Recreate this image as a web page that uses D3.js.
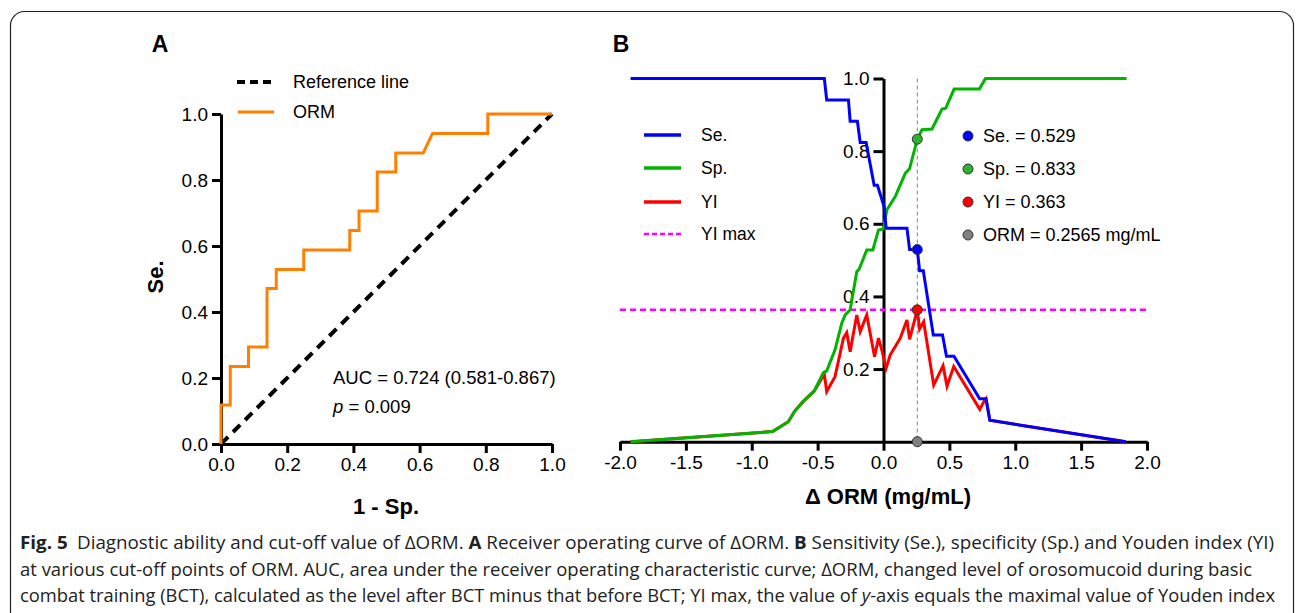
<!DOCTYPE html>
<html>
<head>
<meta charset="utf-8">
<script src="https://cdn.jsdelivr.net/npm/d3@7"></script>
<style>
  body { margin: 0; background: #fff; }
  svg text { font-family: "Liberation Sans", Arial, sans-serif; }
  .cap { font-family: "Open Sans", "Noto Sans", sans-serif !important; }
</style>
</head>
<body>
<div id="chart"></div>
<script>
// ---------- data ----------
// Panel A: ROC staircase vertices (1 - Sp., Se.)
var rocFpr = [0, 0, 0.028, 0.028, 0.083, 0.083, 0.139, 0.139, 0.167, 0.167, 0.25, 0.25, 0.389, 0.389, 0.417, 0.417, 0.472, 0.472, 0.528, 0.528, 0.611, 0.639, 0.806, 0.806, 1];
var rocTpr = [0, 0.118, 0.118, 0.235, 0.235, 0.294, 0.294, 0.471, 0.471, 0.529, 0.529, 0.588, 0.588, 0.647, 0.647, 0.706, 0.706, 0.824, 0.824, 0.882, 0.882, 0.941, 0.941, 1, 1];
var refLine = [0, 1];
var rocTicks = [0, 0.2, 0.4, 0.6, 0.8, 1.0];

// Panel B: sensitivity, specificity and Youden index vs cut-off (mg/mL)
var seX = [-1.92, -0.449, -0.431, -0.266, -0.253, -0.198, -0.177, -0.132, -0.071, -0.046, 0.005, 0.02, 0.178, 0.198, 0.2565, 0.274, 0.302, 0.378, 0.448, 0.478, 0.535, 0.73, 0.778, 0.807, 1.839];
var seY = [1.0, 1.0, 0.941, 0.941, 0.882, 0.882, 0.824, 0.824, 0.706, 0.706, 0.647, 0.588, 0.588, 0.529, 0.529, 0.471, 0.471, 0.294, 0.294, 0.235, 0.235, 0.118, 0.118, 0.059, 0.0];

var spX = [-1.92, -0.842, -0.723, -0.672, -0.609, -0.527, -0.456, -0.431, -0.368, -0.317, -0.291, -0.253, -0.203, -0.185, -0.127, -0.081, -0.038, 0.0, 0.025, 0.089, 0.165, 0.198, 0.2565, 0.292, 0.368, 0.444, 0.472, 0.536, 0.728, 0.774, 1.845];
var spY = [0.0, 0.028, 0.055, 0.085, 0.111, 0.139, 0.19, 0.195, 0.253, 0.326, 0.349, 0.363, 0.468, 0.475, 0.528, 0.528, 0.583, 0.586, 0.638, 0.675, 0.739, 0.752, 0.833, 0.859, 0.861, 0.916, 0.918, 0.971, 0.971, 1.0, 1.0];

var yiX = [-1.92, -0.842, -0.723, -0.672, -0.609, -0.527, -0.449, -0.431, -0.368, -0.304, -0.279, -0.253, -0.203, -0.177, -0.127, -0.068, -0.038, -0.013, 0.02, 0.051, 0.127, 0.178, 0.198, 0.2565, 0.274, 0.305, 0.381, 0.452, 0.482, 0.533, 0.731, 0.761, 0.778, 0.807, 1.839];
var yiY = [0.0, 0.028, 0.055, 0.085, 0.111, 0.139, 0.186, 0.138, 0.179, 0.285, 0.3, 0.248, 0.349, 0.303, 0.349, 0.234, 0.285, 0.253, 0.202, 0.239, 0.285, 0.335, 0.282, 0.363, 0.31, 0.33, 0.156, 0.209, 0.153, 0.207, 0.089, 0.11, 0.118, 0.059, 0.0];

var cutOff = 0.2565;
var cutSe = 0.529, cutSp = 0.833, cutYI = 0.363;
var bXTicks = [-2.0, -1.5, -1.0, -0.5, 0.0, 0.5, 1.0, 1.5, 2.0];
var bYTicks = [0.2, 0.4, 0.6, 0.8, 1.0];

var seriesLabels = ["Se.", "Sp.", "YI", "YI max"];
var seriesColors = ["#0000ff", "#00b400", "#ff0000", "#ff00ff"];
var dotLabels = ["Se. = 0.529", "Sp. = 0.833", "YI = 0.363", "ORM = 0.2565 mg/mL"];
var dotColors = ["#0000ff", "#2db22d", "#ff0000", "#808080"];

(function() {
    var width = 1296, height = 613;

    var svg = d3.select("#chart").append("svg")
        .attr("width", width)
        .attr("height", height);

    // frame with rounded corners (bottom runs off the page)
    svg.append("rect")
        .attr("x", 10.5).attr("y", 11.5)
        .attr("width", 1283).attr("height", 700)
        .attr("rx", 14)
        .attr("fill", "none").attr("stroke", "#222").attr("stroke-width", 1.2);

    // plain hyphen for negatives, like the original figure
    var fmt = function(d) { return d3.format(".1f")(d).replace("\u2212", "-"); };

    function styleAxis(g) {
        g.select(".domain").attr("stroke", "#000").attr("stroke-width", 3);
        g.selectAll(".tick line").attr("stroke", "#000").attr("stroke-width", 3);
        g.selectAll(".tick text").attr("fill", "#000")
            .style("font-size", "19px");
    }

    // ------------------------- PANEL A -------------------------
    var xA = d3.scaleLinear().domain([0, 1]).range([221, 552]);
    var yA = d3.scaleLinear().domain([0, 1]).range([444, 114]);

    svg.append("g")
        .attr("transform", "translate(" + xA(0) + ",0)")
        .call(d3.axisLeft(yA).tickValues(rocTicks).tickFormat(fmt).tickSize(9).tickSizeOuter(0).tickPadding(4))
        .call(styleAxis);

    svg.append("g")
        .attr("transform", "translate(0," + yA(0) + ")")
        .call(d3.axisBottom(xA).tickValues(rocTicks).tickFormat(fmt).tickSize(9).tickSizeOuter(0).tickPadding(5))
        .call(styleAxis);

    // reference diagonal
    svg.append("line")
        .attr("x1", xA(refLine[0])).attr("y1", yA(refLine[0]))
        .attr("x2", xA(refLine[1])).attr("y2", yA(refLine[1]))
        .attr("stroke", "#000").attr("stroke-width", 4)
        .attr("stroke-dasharray", "10,7");

    var rocPts = rocFpr.map(function(d, i) { return [d, rocTpr[i]]; });
    svg.append("path")
        .datum(rocPts)
        .attr("d", d3.line().x(function(d) { return xA(d[0]); }).y(function(d) { return yA(d[1]); }))
        .attr("fill", "none").attr("stroke", "#ff8000").attr("stroke-width", 3);

    // legend A
    svg.append("line").attr("x1", 237).attr("x2", 273).attr("y1", 82).attr("y2", 82)
        .attr("stroke", "#000").attr("stroke-width", 4).attr("stroke-dasharray", "8,5");
    svg.append("line").attr("x1", 238).attr("x2", 274).attr("y1", 112).attr("y2", 112)
        .attr("stroke", "#ff8000").attr("stroke-width", 3);
    svg.append("text").attr("x", 293).attr("y", 82).attr("dy", "0.35em")
        .style("font-size", "18px").text("Reference line");
    svg.append("text").attr("x", 293).attr("y", 112).attr("dy", "0.35em")
        .style("font-size", "18px").text("ORM");

    svg.append("text").attr("x", 333).attr("y", 378).attr("dy", "0.35em")
        .style("font-size", "18.5px").text("AUC = 0.724 (0.581-0.867)");
    var pt = svg.append("text").attr("x", 333).attr("y", 407).attr("dy", "0.35em")
        .style("font-size", "18.5px");
    pt.append("tspan").style("font-style", "italic").text("p");
    pt.append("tspan").text(" = 0.009");

    svg.append("text").attr("x", 160).attr("y", 52).attr("text-anchor", "middle")
        .style("font-size", "23px").style("font-weight", "bold").text("A");

    svg.append("text")
        .attr("transform", "translate(155,277) rotate(-90)")
        .attr("text-anchor", "middle").attr("dy", "0.35em")
        .style("font-size", "22px").style("font-weight", "bold").text("Se.");

    svg.append("text").attr("x", 386).attr("y", 506).attr("dy", "0.35em")
        .attr("text-anchor", "middle")
        .style("font-size", "22px").style("font-weight", "bold").text("1 - Sp.");

    // ------------------------- PANEL B -------------------------
    var xB = d3.scaleLinear().domain([-2, 2]).range([620, 1147]);
    var yB = d3.scaleLinear().domain([0, 1]).range([441.7, 78.5]);

    svg.append("g")
        .attr("transform", "translate(" + xB(0) + ",0)")
        .call(d3.axisLeft(yB).tickValues(bYTicks).tickFormat(fmt).tickSize(10).tickSizeOuter(0).tickPadding(4))
        .call(styleAxis);

    svg.append("g")
        .attr("transform", "translate(0," + yB(0) + ")")
        .call(d3.axisBottom(xB).tickValues(bXTicks).tickFormat(fmt).tickSize(9).tickSizeOuter(0).tickPadding(5))
        .call(styleAxis);

    // cut-off guide
    svg.append("line")
        .attr("x1", xB(cutOff)).attr("x2", xB(cutOff))
        .attr("y1", yB(1)).attr("y2", yB(0))
        .attr("stroke", "#808080").attr("stroke-width", 1)
        .attr("stroke-dasharray", "4,3");

    // YI max line
    svg.append("line")
        .attr("x1", xB(-2)).attr("x2", xB(2))
        .attr("y1", yB(cutYI)).attr("y2", yB(cutYI))
        .attr("stroke", seriesColors[3]).attr("stroke-width", 2.5)
        .attr("stroke-dasharray", "6,4");

    var lineB = d3.line().x(function(d) { return xB(d[0]); }).y(function(d) { return yB(d[1]); });
    function pts(xs, ys) { return xs.map(function(d, i) { return [d, ys[i]]; }); }

    svg.append("path").datum(pts(yiX, yiY)).attr("d", lineB)
        .attr("fill", "none").attr("stroke", seriesColors[2]).attr("stroke-width", 3);
    svg.append("path").datum(pts(spX, spY)).attr("d", lineB)
        .attr("fill", "none").attr("stroke", seriesColors[1]).attr("stroke-width", 3);
    svg.append("path").datum(pts(seX, seY)).attr("d", lineB)
        .attr("fill", "none").attr("stroke", seriesColors[0]).attr("stroke-width", 3);

    // cut-off markers
    var cutVals = [cutSe, cutSp, cutYI, 0];
    svg.selectAll(".cut")
        .data(cutVals)
        .enter().append("circle")
        .attr("class", "cut")
        .attr("cx", xB(cutOff))
        .attr("cy", function(d) { return yB(d); })
        .attr("r", 5)
        .attr("fill", function(d, i) { return dotColors[i]; })
        .attr("stroke", "#333").attr("stroke-width", 1);

    // legend B (lines)
    var legY = [135, 168, 202, 234];
    seriesLabels.forEach(function(lab, i) {
        svg.append("line")
            .attr("x1", 644).attr("x2", 681).attr("y1", legY[i]).attr("y2", legY[i])
            .attr("stroke", seriesColors[i]).attr("stroke-width", i === 3 ? 2.5 : 3.5)
            .attr("stroke-dasharray", i === 3 ? "5,3" : null);
        svg.append("text").attr("x", 701).attr("y", legY[i]).attr("dy", "0.35em")
            .style("font-size", "17.5px").text(lab);
    });

    // legend B (dots)
    var dotY = [136, 169, 202, 235];
    dotLabels.forEach(function(lab, i) {
        svg.append("circle").attr("cx", 968).attr("cy", dotY[i]).attr("r", 5)
            .attr("fill", dotColors[i]).attr("stroke", "#333").attr("stroke-width", 1);
        svg.append("text").attr("x", 983).attr("y", dotY[i]).attr("dy", "0.35em")
            .style("font-size", "18px").text(lab);
    });

    svg.append("text").attr("x", 621).attr("y", 52).attr("text-anchor", "middle")
        .style("font-size", "23px").style("font-weight", "bold").text("B");

    svg.append("text").attr("x", 888).attr("y", 496).attr("dy", "0.35em")
        .attr("text-anchor", "middle")
        .style("font-size", "22px").style("font-weight", "bold").text("\u0394 ORM (mg/mL)");

    // ------------------------- CAPTION -------------------------
    var cap1 = svg.append("text").attr("class", "cap").attr("x", 20).attr("y", 549)
        .attr("textLength", 1254).attr("lengthAdjust", "spacingAndGlyphs")
        .style("font-size", "18px").attr("fill", "#222");
    cap1.append("tspan").style("font-weight", "bold").text("Fig. 5");
    cap1.append("tspan").text("\u2002Diagnostic ability and cut-off value of \u0394ORM. ");
    cap1.append("tspan").style("font-weight", "bold").text("A");
    cap1.append("tspan").text(" Receiver operating curve of \u0394ORM. ");
    cap1.append("tspan").style("font-weight", "bold").text("B");
    cap1.append("tspan").text(" Sensitivity (Se.), specificity (Sp.) and Youden index (YI)");

    svg.append("text").attr("class", "cap").attr("x", 20).attr("y", 576)
        .attr("textLength", 1232).attr("lengthAdjust", "spacingAndGlyphs")
        .style("font-size", "18px").attr("fill", "#222")
        .text("at various cut-off points of ORM. AUC, area under the receiver operating characteristic curve; \u0394ORM, changed level of orosomucoid during basic");

    var cap3 = svg.append("text").attr("class", "cap").attr("x", 20).attr("y", 602)
        .attr("textLength", 1255).attr("lengthAdjust", "spacingAndGlyphs")
        .style("font-size", "18px").attr("fill", "#222");
    cap3.append("tspan").text("combat training (BCT), calculated as the level after BCT minus that before BCT; YI max, the value of ");
    cap3.append("tspan").style("font-style", "italic").text("y");
    cap3.append("tspan").text("-axis equals the maximal value of Youden index");
})();
</script>
</body>
</html>
